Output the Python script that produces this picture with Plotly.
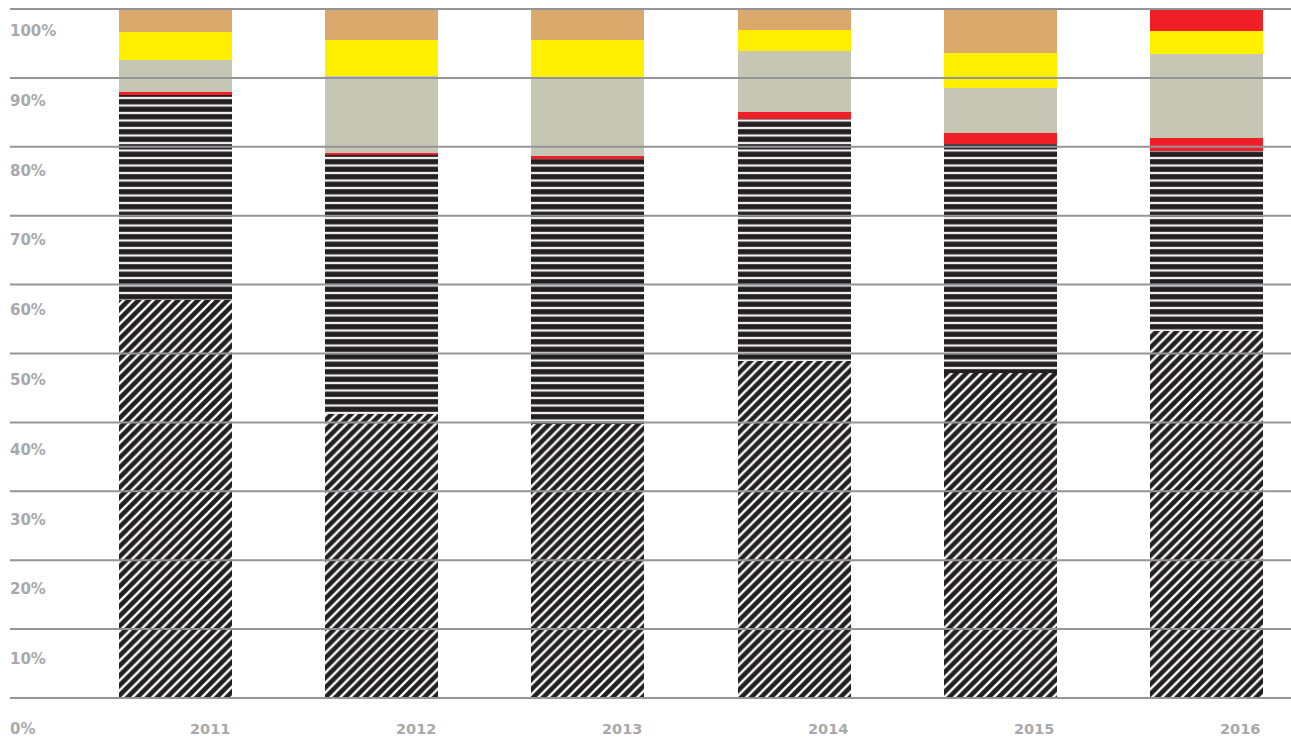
import plotly.graph_objects as go

years = ["2011", "2012", "2013", "2014", "2015", "2016"]
hatched = [57.8, 41.2, 39.8, 48.9, 47.2, 53.3]
striped = [29.7, 37.6, 38.4, 35.1, 33.25, 26.1]
red_low = [0.45, 0.3, 0.5, 1.05, 1.6, 1.9]
grey = [4.65, 11.2, 11.4, 8.85, 6.55, 12.2]
yellow = [4.05, 5.2, 5.4, 3.05, 5.05, 3.3]
tan = [3.35, 4.5, 4.5, 3.05, 6.35, 0.0]
red_top = [0.0, 0.0, 0.0, 0.0, 0.0, 3.2]

y_ticks = [0, 10, 20, 30, 40, 50, 60, 70, 80, 90, 100]
y_tick_labels = [f"{v}%" for v in y_ticks]

BLACK = "#231F20"
GRID = "#939598"
LABEL = "#A7A9AC"

fig = go.Figure()

fig.add_bar(x=years, y=hatched, name="hatched",
            marker=dict(color=BLACK, line=dict(width=0),
                        pattern=dict(shape="/", bgcolor=BLACK, fgcolor="#FFFFFF",
                                     size=7, solidity=0.33, fillmode="replace")))
fig.add_bar(x=years, y=striped, name="striped",
            marker=dict(color=BLACK, line=dict(width=0),
                        pattern=dict(shape="-", bgcolor="#F2F2F2", fgcolor=BLACK,
                                     size=7.5, solidity=0.7, fillmode="replace")))
fig.add_bar(x=years, y=red_low, name="red", marker=dict(color="#EE1F26", line=dict(width=0)))
fig.add_bar(x=years, y=grey, name="grey", marker=dict(color="#C5C6B3", line=dict(width=0)))
fig.add_bar(x=years, y=yellow, name="yellow", marker=dict(color="#FFF000", line=dict(width=0)))
fig.add_bar(x=years, y=tan, name="tan", marker=dict(color="#DCA96C", line=dict(width=0)))
fig.add_bar(x=years, y=red_top, name="red top", marker=dict(color="#EE1F26", line=dict(width=0)))

shapes = []
for v in y_ticks:
    shapes.append(dict(type="line", xref="paper", x0=0, x1=1, yref="y", y0=v, y1=v,
                       line=dict(color=GRID, width=2), layer="above"))

annotations = []
for v, t in zip(y_ticks, y_tick_labels):
    annotations.append(dict(text=t, xref="paper", x=0, xanchor="left", xshift=-2, yref="y", y=v,
                            yanchor="middle", yshift=-(22 + (100 - v) * 0.09), showarrow=False,
                            font=dict(family="DejaVu Sans", size=15, color=LABEL, weight="bold")))
for i, yr in enumerate(years):
    annotations.append(dict(text=yr, xref="x", x=i, xanchor="right", xshift=56,
                            yref="paper", y=0, yanchor="middle", yshift=-30, showarrow=False,
                            font=dict(family="DejaVu Sans", size=14.5, color=LABEL, weight="bold")))

fig.update_layout(
    barmode="stack",
    bargap=0.452,
    width=1291, height=740,
    margin=dict(l=10, r=0, t=8, b=41),
    paper_bgcolor="white", plot_bgcolor="white",
    showlegend=False,
    shapes=shapes,
    annotations=annotations,
    xaxis=dict(type="category", range=[-0.803, 5.41], showgrid=False, zeroline=False,
               showticklabels=False, ticks=""),
    yaxis=dict(range=[-0.15, 100.15], showgrid=False, zeroline=False, showticklabels=False, ticks=""),
)

fig.write_html("out.html")
